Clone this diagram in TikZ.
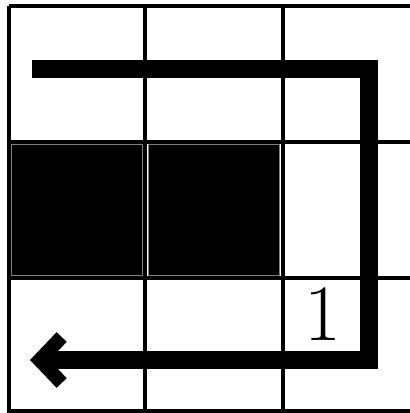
\documentclass[tikz,border=0pt]{standalone}
\usepackage{tikz}
\usetikzlibrary{arrows.meta,positioning}

\begin{document}
\begin{tikzpicture}[x=1pt, y=-1pt,
    gridline/.style={line width=4pt},
    wall/.style={fill=black, draw=gray, line width=1.2pt},
    route/.style={line width=18pt, -{Straight Barb[length=22pt, width=46pt, line width=14pt]}},
    count/.style={font=\fontsize{80}{80}\selectfont, inner sep=0pt}
]
\useasboundingbox (0,0) rectangle (410,413);
\clip (0,0) rectangle (410,413);

% blocked cells
\node[wall, minimum width=131pt, minimum height=131pt] (w1) at (77,210) {};
\node[wall, minimum width=131pt, minimum height=131pt] (w2) at (214,210) {};

% grid
\foreach \x in {9,145,283,420}
    \draw[gridline] (\x,6) -- (\x,420);
\foreach \y in {6,142,278,411}
    \draw[gridline] (9,\y) -- (430,\y);

% route
\coordinate (start) at (32,69);
\coordinate (c1) at (369,69);
\coordinate (c2) at (369,360);
\coordinate (goal) at (30,360);
\draw[route] (start) -- (c1) -- (c2) -- (goal);

\node[count] (n1) at (323,314) {1};

\end{tikzpicture}
\end{document}
